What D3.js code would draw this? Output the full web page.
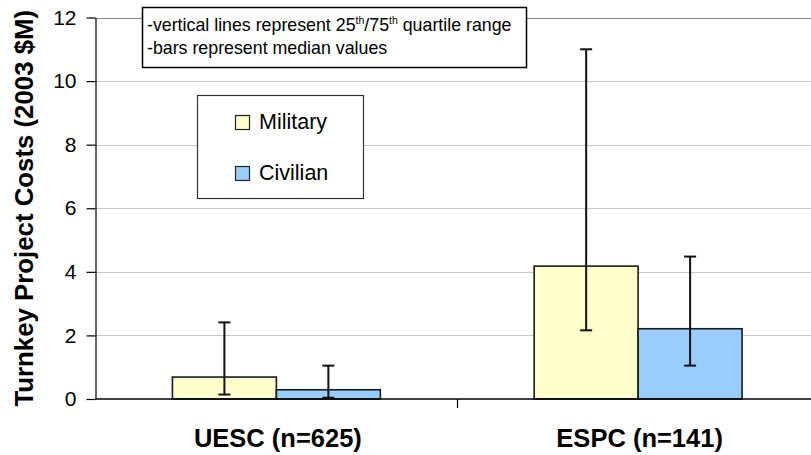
<!DOCTYPE html>
<html>
<head>
<meta charset="utf-8">
<script src="https://cdn.jsdelivr.net/npm/d3@7/dist/d3.min.js"></script>
<style>
  html, body { margin: 0; padding: 0; background: #fff; }
  svg { display: block; font-family: "Liberation Sans", Arial, sans-serif; }
</style>
</head>
<body>
<svg id="chart" width="811" height="455"></svg>
<script>
// Program types and sample sizes
const categories = ["UESC (n=625)", "ESPC (n=141)"];
const seriesNames = ["Military", "Civilian"];
// Median turnkey project costs (2003 $M)
const medianMilitary = [0.69, 4.18];
const medianCivilian = [0.29, 2.21];
// 25th / 75th percentile bounds
const q25Military = [0.14, 2.16];
const q75Military = [2.41, 11.0];
const q25Civilian = [0.04, 1.05];
const q75Civilian = [1.05, 4.48];
const yTicks = [0, 2, 4, 6, 8, 10, 12];
const seriesColors = ["#FFFFCC", "#99CCFF"];

const svg = d3.select("#chart");

const plot = { left: 95.5, right: 819, top: 17.5, bottom: 399 };

const y = d3.scaleLinear().domain([0, 12]).range([plot.bottom, plot.top]);
const x0 = d3.scaleBand().domain(categories).range([plot.left, plot.right]).padding(0);
const x1 = d3.scaleBand().domain(seriesNames).range([0, x0.bandwidth()])
  .paddingInner(0).paddingOuter(0.74);

const rows = categories.map((c, i) => ({
  category: c,
  values: [
    { series: "Military", median: medianMilitary[i], lo: q25Military[i], hi: q75Military[i] },
    { series: "Civilian", median: medianCivilian[i], lo: q25Civilian[i], hi: q75Civilian[i] }
  ]
}));

// Horizontal gridlines
svg.append("g").selectAll("line")
  .data(yTicks.filter(t => t > 0))
  .join("line")
  .attr("x1", plot.left).attr("x2", 811)
  .attr("y1", d => Math.round(y(d)) + 0.5).attr("y2", d => Math.round(y(d)) + 0.5)
  .attr("stroke", d => d === 12 ? "#8a8a8a" : "#c8c8c8")
  .attr("stroke-width", 1.2);

// Bars
const groups = svg.append("g").selectAll("g")
  .data(rows)
  .join("g")
  .attr("transform", d => `translate(${x0(d.category)},0)`);

groups.selectAll("rect")
  .data(d => d.values)
  .join("rect")
  .attr("x", d => x1(d.series))
  .attr("y", d => y(d.median))
  .attr("width", x1.bandwidth())
  .attr("height", d => y(0) - y(d.median))
  .attr("fill", (d, i) => seriesColors[i])
  .attr("stroke", "#1a1a1a")
  .attr("stroke-width", 1.6);

// Quartile range whiskers
const whisk = groups.selectAll("g.whisker")
  .data(d => d.values)
  .join("g")
  .attr("class", "whisker")
  .attr("transform", d => `translate(${x1(d.series) + x1.bandwidth() / 2},0)`);

whisk.append("line")
  .attr("x1", 0).attr("x2", 0)
  .attr("y1", d => y(d.lo)).attr("y2", d => y(d.hi))
  .attr("stroke", "#111").attr("stroke-width", 2);
whisk.selectAll("line.cap")
  .data(d => [d.lo, d.hi])
  .join("line")
  .attr("class", "cap")
  .attr("x1", -6).attr("x2", 6)
  .attr("y1", d => y(d)).attr("y2", d => y(d))
  .attr("stroke", "#111").attr("stroke-width", 2);

// Y axis
const yAxis = svg.append("g")
  .attr("transform", `translate(${plot.left},0)`)
  .call(d3.axisLeft(y).tickValues(yTicks).tickSize(9).tickPadding(10).tickSizeOuter(0));
yAxis.select(".domain").attr("stroke", "#000").attr("stroke-width", 1.2);
yAxis.selectAll(".tick line").attr("stroke", "#000").attr("stroke-width", 1.2);
yAxis.selectAll(".tick text")
  .attr("font-size", 21)
  .attr("font-family", "Liberation Sans, Arial, sans-serif")
  .attr("fill", "#000");

// X axis baseline with category divider ticks
const xAxis = svg.append("g")
  .attr("transform", `translate(0,${plot.bottom})`);
xAxis.append("line")
  .attr("x1", plot.left).attr("x2", 811)
  .attr("y1", 0).attr("y2", 0)
  .attr("stroke", "#000").attr("stroke-width", 1.5);
xAxis.selectAll("line.div")
  .data(categories.slice(1))
  .join("line")
  .attr("class", "div")
  .attr("x1", d => Math.round(x0(d)) + 0.5).attr("x2", d => Math.round(x0(d)) + 0.5)
  .attr("y1", 0).attr("y2", 9)
  .attr("stroke", "#000").attr("stroke-width", 1.2);
xAxis.selectAll("text")
  .data(categories)
  .join("text")
  .attr("x", d => x0(d) + x0.bandwidth() / 2 + 1.5)
  .attr("y", 47.5)
  .attr("text-anchor", "middle")
  .attr("font-size", 25.5)
  .attr("font-weight", "bold")
  .text(d => d);

// Y axis title
svg.append("text")
  .attr("transform", `translate(33,${(plot.top + plot.bottom) / 2}) rotate(-90)`)
  .attr("text-anchor", "middle")
  .attr("font-size", 25.8)
  .attr("font-weight", "bold")
  .text("Turnkey Project Costs (2003 $M)");

// Note box
const note = svg.append("g");
note.append("rect")
  .attr("x", 142.5).attr("y", 7.5).attr("width", 384).attr("height", 60)
  .attr("fill", "#fff").attr("stroke", "#000").attr("stroke-width", 1.5);
const line1 = note.append("text").attr("x", 147).attr("y", 31).attr("font-size", 17.8);
line1.append("tspan").text("-vertical lines represent 25");
line1.append("tspan").attr("font-size", 10.5).attr("dy", -7).text("th");
line1.append("tspan").attr("dy", 7).text("/75");
line1.append("tspan").attr("font-size", 10.5).attr("dy", -7).text("th");
line1.append("tspan").attr("dy", 7).text(" quartile range");
note.append("text").attr("x", 147).attr("y", 54).attr("font-size", 17.8)
  .text("-bars represent median values");

// Legend
const legend = svg.append("g");
legend.append("rect")
  .attr("x", 197.5).attr("y", 95.5).attr("width", 166).attr("height", 103)
  .attr("fill", "#fff").attr("stroke", "#333").attr("stroke-width", 1.2);
const li = legend.selectAll("g.item")
  .data(seriesNames)
  .join("g")
  .attr("class", "item")
  .attr("transform", (d, i) => `translate(235,${115 + i * 51})`);
li.append("rect")
  .attr("x", 0.5).attr("y", 0.5).attr("width", 14).attr("height", 14)
  .attr("fill", (d, i) => seriesColors[i])
  .attr("stroke", "#222").attr("stroke-width", 1.2);
li.append("text")
  .attr("x", 24).attr("y", 14)
  .attr("font-size", 21.5)
  .text(d => d);
</script>
</body>
</html>
